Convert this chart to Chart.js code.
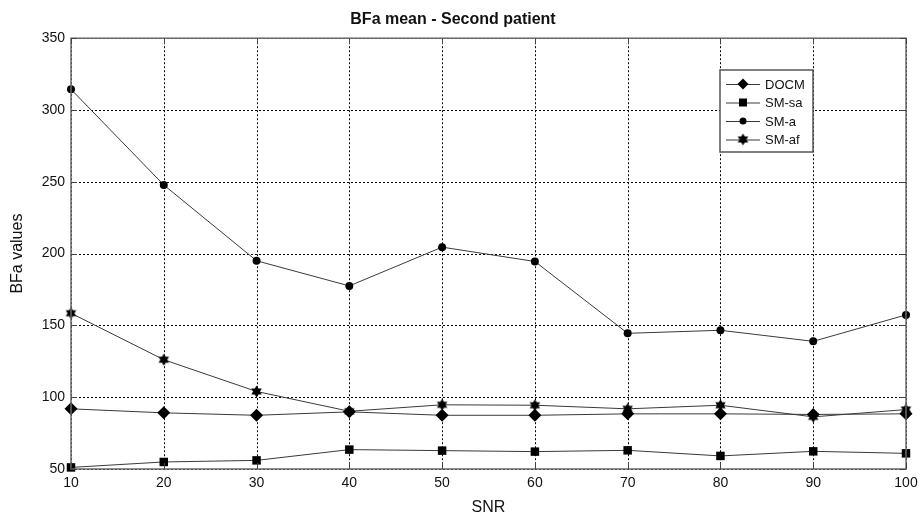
<!DOCTYPE html>
<html>
<head>
<meta charset="utf-8">
<script src="https://cdn.jsdelivr.net/npm/chart.js@4/dist/chart.umd.min.js"></script>
<style>
html,body{margin:0;padding:0;background:#fff;}
#wrap{width:921px;height:519px;position:relative;}
</style>
</head>
<body>
<div id="wrap"><canvas id="c" width="921" height="519"></canvas></div>
<script>
const snr = [10, 20, 30, 40, 50, 60, 70, 80, 90, 100];
const docm = [91.9, 89.1, 87.4, 89.8, 87.4, 87.4, 88.4, 88.4, 88.0, 88.4];
const smSa = [51.1, 54.9, 56.0, 63.5, 62.8, 62.1, 63.0, 59.1, 62.3, 60.9];
const smA  = [314.4, 247.8, 195.0, 177.5, 204.5, 194.5, 144.5, 146.6, 138.9, 157.3];
const smAf = [158.5, 126.1, 104.0, 90.2, 94.7, 94.4, 91.9, 94.4, 86.3, 91.4];
const yTicks = [50, 100, 150, 200, 250, 300, 350];
const xTicks = [10, 20, 30, 40, 50, 60, 70, 80, 90, 100];

function hexagram(size) {
  const c = document.createElement('canvas');
  c.width = size; c.height = size;
  const g = c.getContext('2d');
  const cx = size / 2, cy = size / 2, r = size / 2 - 0.5;
  g.fillStyle = '#000';
  for (let k = 0; k < 2; k++) {
    g.beginPath();
    for (let i = 0; i < 3; i++) {
      const a = -Math.PI / 2 + k * Math.PI + i * 2 * Math.PI / 3;
      const px = cx + r * Math.cos(a), py = cy + r * Math.sin(a);
      if (i === 0) g.moveTo(px, py); else g.lineTo(px, py);
    }
    g.closePath();
    g.fill();
  }
  return c;
}
const starImg = hexagram(13);

const pts = arr => snr.map((x, i) => ({x: x, y: arr[i]}));
const lineCol = '#3a3a3a';
const series = [
  {label: 'DOCM', data: pts(docm), pointStyle: 'rectRot', pointRadius: 6.5},
  {label: 'SM-sa', data: pts(smSa), pointStyle: 'rect', pointRadius: 6},
  {label: 'SM-a', data: pts(smA), pointStyle: 'circle', pointRadius: 4},
  {label: 'SM-af', data: pts(smAf), pointStyle: starImg, pointRadius: 6}
];
const datasets = series.map(s => ({
  label: s.label,
  data: s.data,
  borderColor: lineCol,
  borderWidth: 1,
  backgroundColor: '#000',
  pointBackgroundColor: '#000',
  pointBorderColor: '#000',
  pointBorderWidth: 0,
  pointStyle: s.pointStyle,
  pointRadius: s.pointRadius,
  tension: 0,
  clip: false
}));

const boxPlugin = {
  id: 'boxPlugin',
  beforeDatasetsDraw(chart) {
    const {ctx, chartArea: a} = chart;
    const xs = chart.scales.x, ys = chart.scales.y;
    ctx.save();
    ctx.strokeStyle = '#000';
    ctx.lineWidth = 1;
    ctx.setLineDash([2, 2]);
    xTicks.forEach(v => {
      const px = Math.round(xs.getPixelForValue(v)) + 0.5;
      ctx.beginPath(); ctx.moveTo(px, a.top); ctx.lineTo(px, a.bottom); ctx.stroke();
    });
    yTicks.forEach(v => {
      const py = Math.round(ys.getPixelForValue(v)) + 0.5;
      ctx.beginPath(); ctx.moveTo(a.left, py); ctx.lineTo(a.right, py); ctx.stroke();
    });
    ctx.restore();
  },
  afterDraw(chart) {
    const {ctx, chartArea: a} = chart;
    ctx.save();
    ctx.strokeStyle = '#6a6a6a';
    ctx.lineWidth = 1.5;
    ctx.strokeRect(a.left, a.top, a.right - a.left, a.bottom - a.top);
    ctx.strokeStyle = '#444';
    ctx.lineWidth = 1;
    const xs = chart.scales.x, ys = chart.scales.y;
    xTicks.forEach(v => {
      const px = Math.round(xs.getPixelForValue(v)) + 0.5;
      ctx.beginPath(); ctx.moveTo(px, a.bottom); ctx.lineTo(px, a.bottom - 6); ctx.stroke();
      ctx.beginPath(); ctx.moveTo(px, a.top); ctx.lineTo(px, a.top + 6); ctx.stroke();
    });
    yTicks.forEach(v => {
      const py = Math.round(ys.getPixelForValue(v)) + 0.5;
      ctx.beginPath(); ctx.moveTo(a.left, py); ctx.lineTo(a.left + 6, py); ctx.stroke();
      ctx.beginPath(); ctx.moveTo(a.right, py); ctx.lineTo(a.right - 6, py); ctx.stroke();
    });
    // legend
    const lx = 720, ly = 70, lw = 93, lh = 82;
    ctx.fillStyle = '#fff';
    ctx.fillRect(lx, ly, lw, lh);
    ctx.strokeStyle = '#555';
    ctx.lineWidth = 1.5;
    ctx.strokeRect(lx, ly, lw, lh);
    ctx.font = '13px "Liberation Sans", Arial, sans-serif';
    ctx.textBaseline = 'middle';
    ctx.textAlign = 'left';
    series.forEach((s, i) => {
      const yy = ly + 14 + i * 18.5;
      ctx.strokeStyle = lineCol;
      ctx.lineWidth = 1;
      ctx.beginPath(); ctx.moveTo(lx + 6, yy + 0.5); ctx.lineTo(lx + 40, yy + 0.5); ctx.stroke();
      ctx.fillStyle = '#000';
      const cx = lx + 23;
      if (s.pointStyle === 'rectRot') {
        const r = 5.5;
        ctx.beginPath(); ctx.moveTo(cx, yy - r); ctx.lineTo(cx + r, yy); ctx.lineTo(cx, yy + r); ctx.lineTo(cx - r, yy); ctx.closePath(); ctx.fill();
      } else if (s.pointStyle === 'rect') {
        ctx.fillRect(cx - 4, yy - 4, 8, 8);
      } else if (s.pointStyle === 'circle') {
        ctx.beginPath(); ctx.arc(cx, yy, 3.5, 0, Math.PI * 2); ctx.fill();
      } else {
        ctx.drawImage(starImg, cx - 6.5, yy - 6.5);
      }
      ctx.fillStyle = '#111';
      ctx.fillText(s.label, lx + 45, yy + 1);
    });
    ctx.restore();
  }
};

new Chart(document.getElementById('c'), {
  type: 'line',
  data: {datasets: datasets},
  options: {
    responsive: false,
    animation: false,
    layout: {padding: {left: 0, right: 15, top: 0, bottom: 0}},
    plugins: {
      legend: {display: false},
      tooltip: {enabled: false},
      title: {
        display: true,
        text: 'BFa mean - Second patient',
        color: '#111',
        font: {family: '"Liberation Sans", Arial, sans-serif', size: 16, weight: 'bold'},
        padding: {top: 10, bottom: 9}
      }
    },
    scales: {
      x: {
        type: 'linear',
        min: 10, max: 100,
        afterBuildTicks: s => { s.ticks = xTicks.map(v => ({value: v})); },
        afterFit: s => { s.height = 50; s.paddingRight = 0; s.paddingLeft = 0; },
        grid: {display: false, drawTicks: false},
        border: {display: false},
        ticks: {color: '#111', padding: 6, maxRotation: 0, font: {family: '"Liberation Sans", Arial, sans-serif', size: 14}},
        title: {display: true, text: 'SNR', color: '#111', padding: {top: 4, bottom: 2}, font: {family: '"Liberation Sans", Arial, sans-serif', size: 16}}
      },
      y: {
        type: 'linear',
        min: 50, max: 350,
        afterBuildTicks: s => { s.ticks = yTicks.map(v => ({value: v})); },
        afterFit: s => { s.width = 71; s.paddingTop = 0; s.paddingBottom = 0; },
        grid: {display: false, drawTicks: false},
        border: {display: false},
        ticks: {color: '#111', padding: 6, font: {family: '"Liberation Sans", Arial, sans-serif', size: 14}},
        title: {display: true, text: 'BFa values', color: '#111', padding: {top: 8, bottom: 0}, font: {family: '"Liberation Sans", Arial, sans-serif', size: 16}}
      }
    }
  },
  plugins: [boxPlugin]
});
</script>
</body>
</html>
